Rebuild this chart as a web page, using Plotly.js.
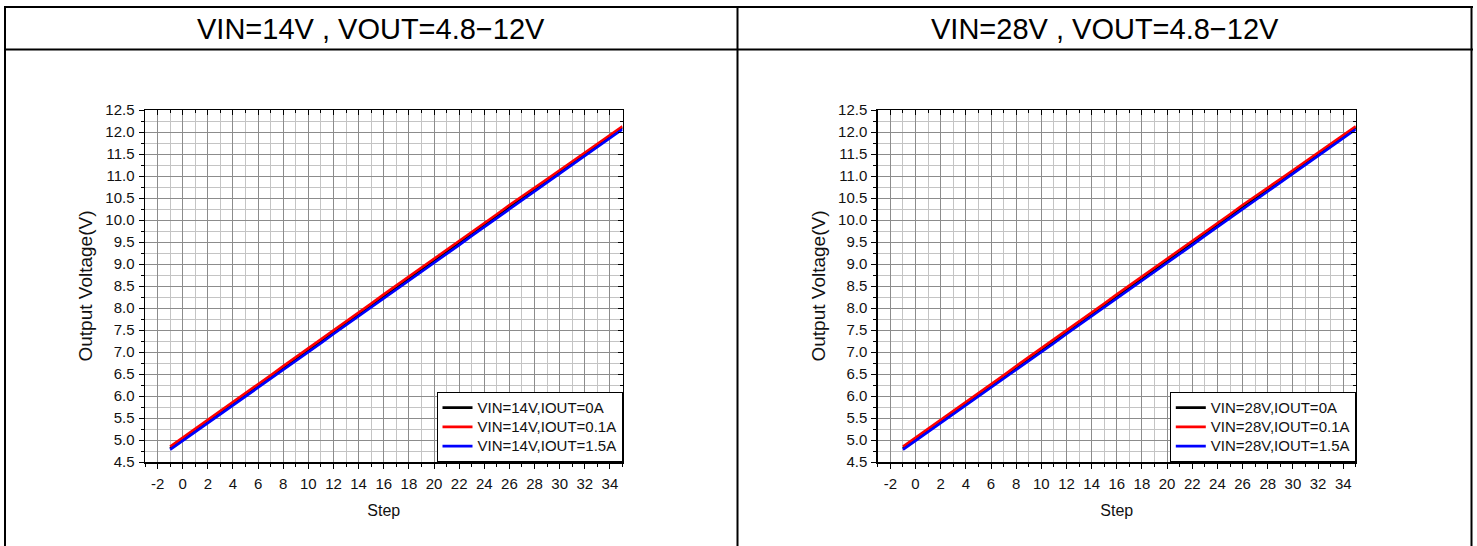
<!DOCTYPE html>
<html>
<head>
<meta charset="utf-8">
<script src="https://cdn.plot.ly/plotly-3.0.1.min.js"></script>
<style>
html,body{margin:0;padding:0;background:#fff;}
#chart{width:1477px;height:546px;}
</style>
</head>
<body>
<div id="chart"></div>
<script>
// ---- data ----
const steps = [-1,0,1,2,3,4,5,6,7,8,9,10,11,12,13,14,15,16,17,18,19,20,21,22,23,24,25,26,27,28,29,30,31,32,33,34,35];

const panelTitles = ["VIN=14V , VOUT=4.8\u221212V", "VIN=28V , VOUT=4.8\u221212V"];
const seriesNamesL = ["VIN=14V,IOUT=0A", "VIN=14V,IOUT=0.1A", "VIN=14V,IOUT=1.5A"];
const seriesNamesR = ["VIN=28V,IOUT=0A", "VIN=28V,IOUT=0.1A", "VIN=28V,IOUT=1.5A"];

const vin14_i0   = [4.81,5.01,5.22,5.42,5.62,5.83,6.03,6.23,6.43,6.64,6.84,7.04,7.24,7.45,7.65,7.85,8.06,8.27,8.47,8.67,8.87,9.07,9.27,9.47,9.68,9.88,10.09,10.30,10.49,10.69,10.89,11.09,11.29,11.49,11.70,11.90,12.10];
const vin14_i01  = [4.85,5.05,5.26,5.46,5.66,5.87,6.07,6.27,6.47,6.68,6.88,7.08,7.28,7.49,7.69,7.89,8.10,8.31,8.51,8.71,8.91,9.11,9.31,9.51,9.72,9.92,10.13,10.34,10.53,10.73,10.93,11.13,11.33,11.53,11.74,11.94,12.13];
const vin14_i15  = [4.78,4.98,5.18,5.38,5.58,5.79,5.99,6.19,6.39,6.60,6.80,7.00,7.20,7.41,7.61,7.81,8.02,8.23,8.43,8.63,8.83,9.03,9.23,9.43,9.64,9.84,10.05,10.26,10.45,10.65,10.85,11.05,11.25,11.45,11.66,11.86,12.06];

const vin28_i0   = [4.81,5.01,5.22,5.42,5.62,5.83,6.03,6.23,6.43,6.64,6.84,7.04,7.24,7.45,7.65,7.85,8.06,8.27,8.47,8.67,8.87,9.07,9.27,9.47,9.68,9.88,10.09,10.30,10.49,10.69,10.89,11.09,11.29,11.49,11.70,11.90,12.10];
const vin28_i01  = [4.85,5.05,5.26,5.46,5.66,5.87,6.07,6.27,6.47,6.68,6.88,7.08,7.28,7.49,7.69,7.89,8.10,8.31,8.51,8.71,8.91,9.11,9.31,9.51,9.72,9.92,10.13,10.34,10.53,10.73,10.93,11.13,11.33,11.53,11.74,11.94,12.13];
const vin28_i15  = [4.78,4.98,5.18,5.38,5.58,5.79,5.99,6.19,6.39,6.60,6.80,7.00,7.20,7.41,7.61,7.81,8.02,8.23,8.43,8.63,8.83,9.03,9.23,9.43,9.64,9.84,10.05,10.26,10.45,10.65,10.85,11.05,11.25,11.45,11.66,11.86,12.06];

const xTickVals = [-2,0,2,4,6,8,10,12,14,16,18,20,22,24,26,28,30,32,34];
const xTickText = ["-2","0","2","4","6","8","10","12","14","16","18","20","22","24","26","28","30","32","34"];
const xTitle = "Step";
const yTitle = "Output Voltage(V)";

// ---- layout helpers ----
const W = 1477, H = 546;
const px = v => v / W;
const py = v => 1 - v / H;
const FONT = "Liberation Sans, Arial, sans-serif";
const colors = ["#000000", "#ff0000", "#0000ff"];

const yDom = [py(462), py(110)];
const xDomL = [px(145), px(622.5)];
const xDomR = [px(877.8), px(1355.8)];

function mkTraces(names, data, xa, ya, leg) {
  return data.map((d, i) => ({
    type: "scatter", mode: "lines", x: steps, y: d,
    name: '<span style="font-size:15px">' + names[i] + '</span>',
    xaxis: xa, yaxis: ya, legend: leg,
    line: {color: colors[i], width: 2.6}
  }));
}

const traces = []
  .concat(mkTraces(seriesNamesL, [vin14_i0, vin14_i01, vin14_i15], "x", "y", "legend"))
  .concat(mkTraces(seriesNamesR, [vin28_i0, vin28_i01, vin28_i15], "x2", "y2", "legend2"));

function xAxis(dom, anchor) {
  return {
    domain: dom, anchor: anchor, range: [-3, 35],
    tickmode: "array", tickvals: xTickVals, ticktext: xTickText,
    ticks: "outside", ticklen: 5, tickwidth: 1, tickcolor: "#000",
    ticklabelstandoff: 2,
    showline: true, linecolor: "#000", linewidth: 1.5,
    showgrid: true, gridcolor: "#8c8c8c", gridwidth: 1,
    zeroline: false,
    minor: {dtick: 1, tick0: 0, ticks: "outside", ticklen: 3, tickcolor: "#000", showgrid: true, gridcolor: "#c4c4c4", gridwidth: 1},
    tickfont: {family: FONT, size: 15, color: "#111"},
    title: {text: xTitle, font: {family: FONT, size: 16, color: "#111"}, standoff: 14}
  };
}
function yAxis(dom, anchor) {
  return {
    domain: dom, anchor: anchor, range: [4.5, 12.5],
    dtick: 0.5, tick0: 0, tickformat: ".1f",
    ticks: "outside", ticklen: 5, tickwidth: 1, tickcolor: "#000",
    ticklabelstandoff: 1,
    showline: true, linecolor: "#000", linewidth: 1.5,
    showgrid: true, gridcolor: "#8c8c8c", gridwidth: 1,
    zeroline: false,
    minor: {dtick: 0.25, ticks: "outside", ticklen: 3, tickcolor: "#000", showgrid: true, gridcolor: "#c4c4c4", gridwidth: 1},
    tickfont: {family: FONT, size: 15, color: "#111"},
    title: {text: yTitle, font: {family: FONT, size: 19, color: "#111"}, standoff: 7}
  };
}
function mirrorX(over) {
  return {overlaying: over, side: "top", range: [-3, 35], tickmode: "array", tickvals: xTickVals,
    ticks: "inside", ticklen: 5, tickcolor: "#000", showticklabels: false, showgrid: false, zeroline: false,
    showline: true, linecolor: "#000", linewidth: 1.5,
    minor: {dtick: 1, tick0: 0, ticks: "inside", ticklen: 3, tickcolor: "#000", showgrid: false}};
}
function mirrorY(over) {
  return {overlaying: over, side: "right", range: [4.5, 12.5], dtick: 0.5, tick0: 0,
    ticks: "inside", ticklen: 5, tickcolor: "#000", showticklabels: false, showgrid: false, zeroline: false,
    showline: true, linecolor: "#000", linewidth: 1.5,
    minor: {dtick: 0.25, ticks: "inside", ticklen: 3, tickcolor: "#000", showgrid: false}};
}

// empty traces so the mirror axes are drawn
traces.push({type: "scatter", x: [], y: [], xaxis: "x3", yaxis: "y3", showlegend: false, hoverinfo: "skip"});
traces.push({type: "scatter", x: [], y: [], xaxis: "x4", yaxis: "y4", showlegend: false, hoverinfo: "skip"});

function legendCfg(xr) {
  return {x: px(xr), xanchor: "right", y: py(462), yanchor: "bottom",
    bgcolor: "#fff", bordercolor: "#000", borderwidth: 1,
    font: {family: FONT, size: 12.5, color: "#111"}, tracegroupgap: 0,
    itemwidth: 30, traceorder: "normal"};
}

const lineStyle = {color: "#000", width: 2};
const shapes = [
  {type: "line", xref: "paper", yref: "paper", x0: px(4), x1: px(1473), y0: py(7), y1: py(7), line: lineStyle},
  {type: "line", xref: "paper", yref: "paper", x0: px(4), x1: px(1473), y0: py(49.5), y1: py(49.5), line: lineStyle},
  {type: "line", xref: "paper", yref: "paper", x0: px(5), x1: px(5), y0: py(6), y1: py(548), line: lineStyle},
  {type: "line", xref: "paper", yref: "paper", x0: px(737.5), x1: px(737.5), y0: py(6), y1: py(548), line: lineStyle},
  {type: "line", xref: "paper", yref: "paper", x0: px(1471.5), x1: px(1471.5), y0: py(6), y1: py(548), line: lineStyle}
];

const annotations = [
  {xref: "paper", yref: "paper", x: px(371), y: py(28.5), text: panelTitles[0], showarrow: false,
   xanchor: "center", yanchor: "middle", font: {family: FONT, size: 29, color: "#000"}},
  {xref: "paper", yref: "paper", x: px(1104.5), y: py(28.5), text: panelTitles[1], showarrow: false,
   xanchor: "center", yanchor: "middle", font: {family: FONT, size: 29, color: "#000"}}
];

const layout = {
  width: W, height: H, margin: {l: 0, r: 0, t: 0, b: 0},
  paper_bgcolor: "#fff", plot_bgcolor: "#fff",
  showlegend: true,
  xaxis: xAxis(xDomL, "y"), yaxis: yAxis(yDom, "x"),
  xaxis2: xAxis(xDomR, "y2"), yaxis2: yAxis(yDom, "x2"),
  xaxis3: Object.assign(mirrorX("x"), {domain: xDomL, anchor: "y3"}),
  yaxis3: Object.assign(mirrorY("y"), {domain: yDom, anchor: "x3"}),
  xaxis4: Object.assign(mirrorX("x2"), {domain: xDomR, anchor: "y4"}),
  yaxis4: Object.assign(mirrorY("y2"), {domain: yDom, anchor: "x4"}),
  legend: legendCfg(622.5),
  legend2: legendCfg(1355.8),
  shapes: shapes, annotations: annotations
};

Plotly.newPlot("chart", traces, layout, {staticPlot: true, displayModeBar: false});
</script>
</body>
</html>
